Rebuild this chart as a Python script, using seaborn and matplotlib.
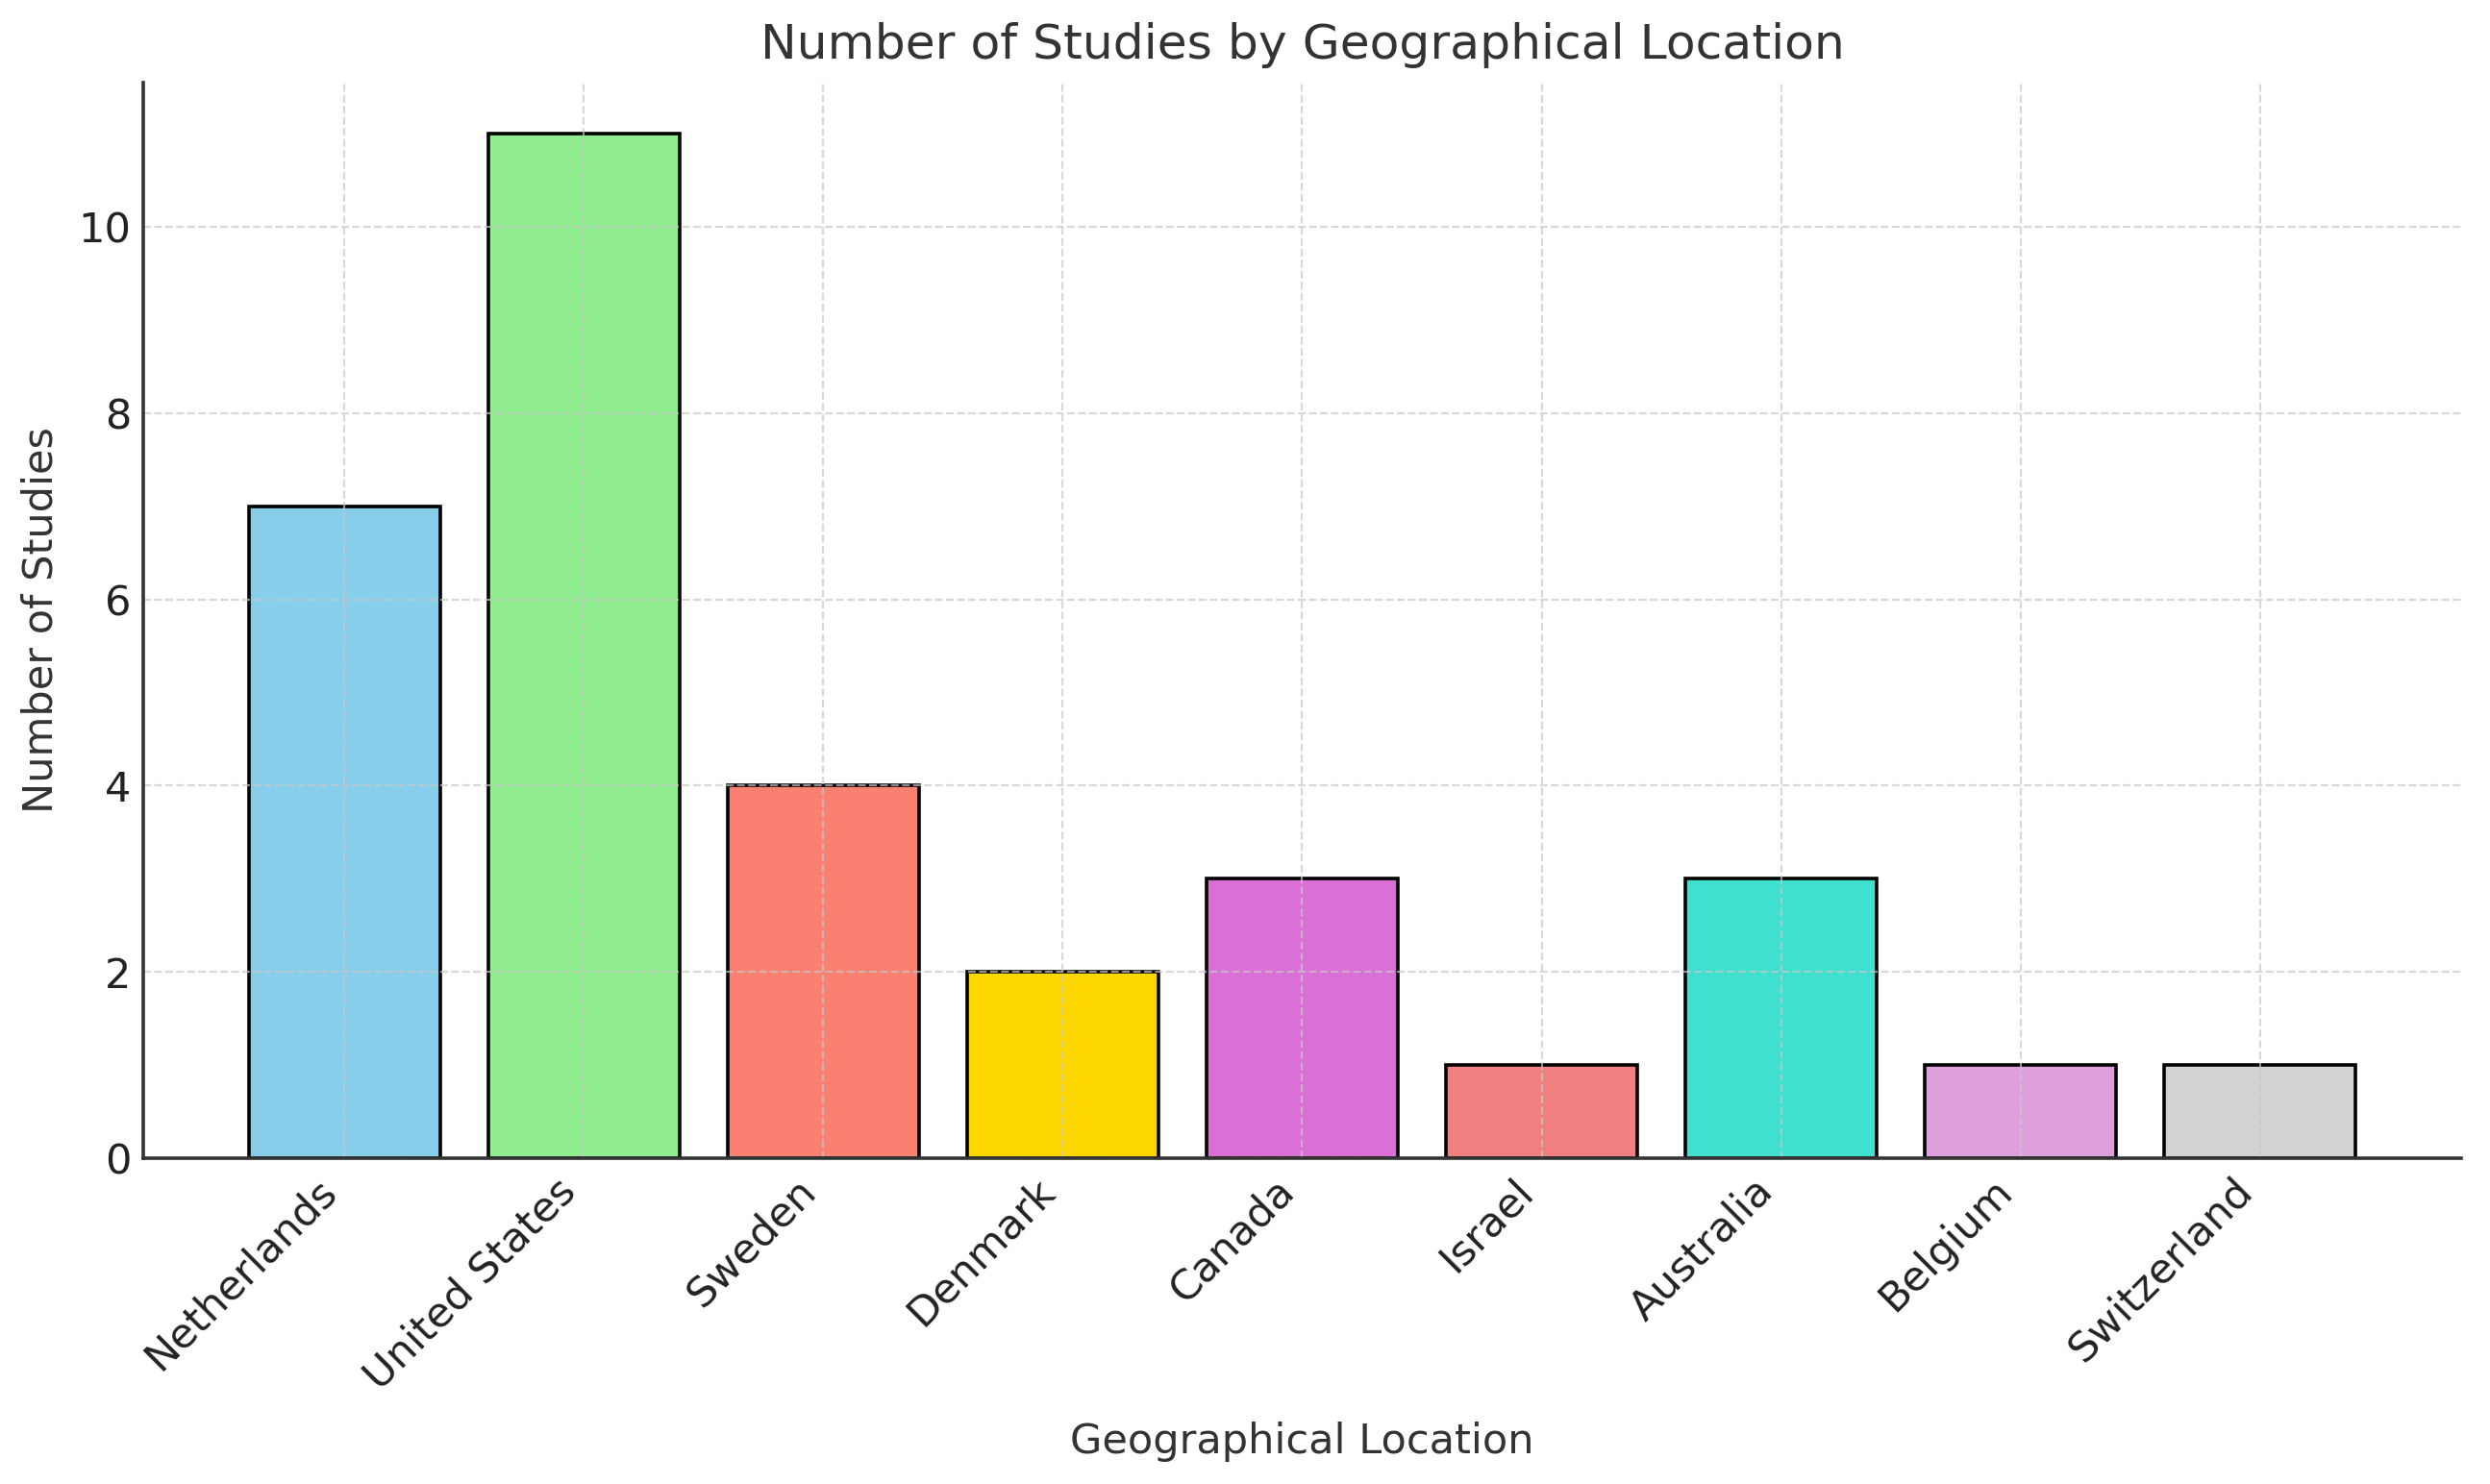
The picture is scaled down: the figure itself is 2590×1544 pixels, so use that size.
import matplotlib
matplotlib.use("Agg")
import matplotlib.pyplot as plt
import seaborn as sns
import pandas as pd

countries = ["Netherlands", "United States", "Sweden", "Denmark", "Canada",
             "Israel", "Australia", "Belgium", "Switzerland"]
studies = [7, 11, 4, 2, 3, 1, 3, 1, 1]
bar_colors = ["skyblue", "lightgreen", "salmon", "gold", "orchid",
              "lightcoral", "turquoise", "plum", "lightgrey"]

df = pd.DataFrame({"Country": countries, "Studies": studies})

sns.set_style("white")
plt.rcParams["font.family"] = ["DejaVu Sans"]

DPI = 259
fig = plt.figure(figsize=(2590 / DPI, 1544 / DPI), dpi=DPI)
ax = fig.add_axes([149 / 2590, 1 - 1205 / 1544, (2560 - 149) / 2590, (1205 - 86) / 1544])

sns.barplot(data=df, x="Country", y="Studies", hue="Country", palette=bar_colors,
            legend=False, edgecolor="black", linewidth=1.0, width=0.8, ax=ax,
            saturation=1)

n = len(countries)
ax.set_xlim(-0.4 - 0.05 * (n - 1 + 0.8), n - 1 + 0.4 + 0.05 * (n - 1 + 0.8))
ax.set_ylim(0, max(studies) * 1.05)
ax.set_yticks([0, 2, 4, 6, 8, 10])

ax.set_axisbelow("line")
ax.grid(True, linestyle="--", linewidth=0.6, color="#c8c8c8", alpha=0.7)

for side in ["top", "right"]:
    ax.spines[side].set_visible(False)
for side in ["left", "bottom"]:
    ax.spines[side].set_color("#333333")
    ax.spines[side].set_linewidth(1.0)

ax.tick_params(axis="both", direction="in", length=3.0, width=0.8, colors="#333333",
               labelcolor="#222222", labelsize=12)
plt.setp(ax.get_xticklabels(), rotation=45, ha="right", rotation_mode="default")

ax.set_title("Number of Studies by Geographical Location", fontsize=14, color="#333333", pad=7)
ax.set_xlabel("Geographical Location", fontsize=12, color="#333333", labelpad=7)
ax.set_ylabel("Number of Studies", fontsize=12, color="#333333", labelpad=5)

fig.savefig("out.png", dpi=DPI)
